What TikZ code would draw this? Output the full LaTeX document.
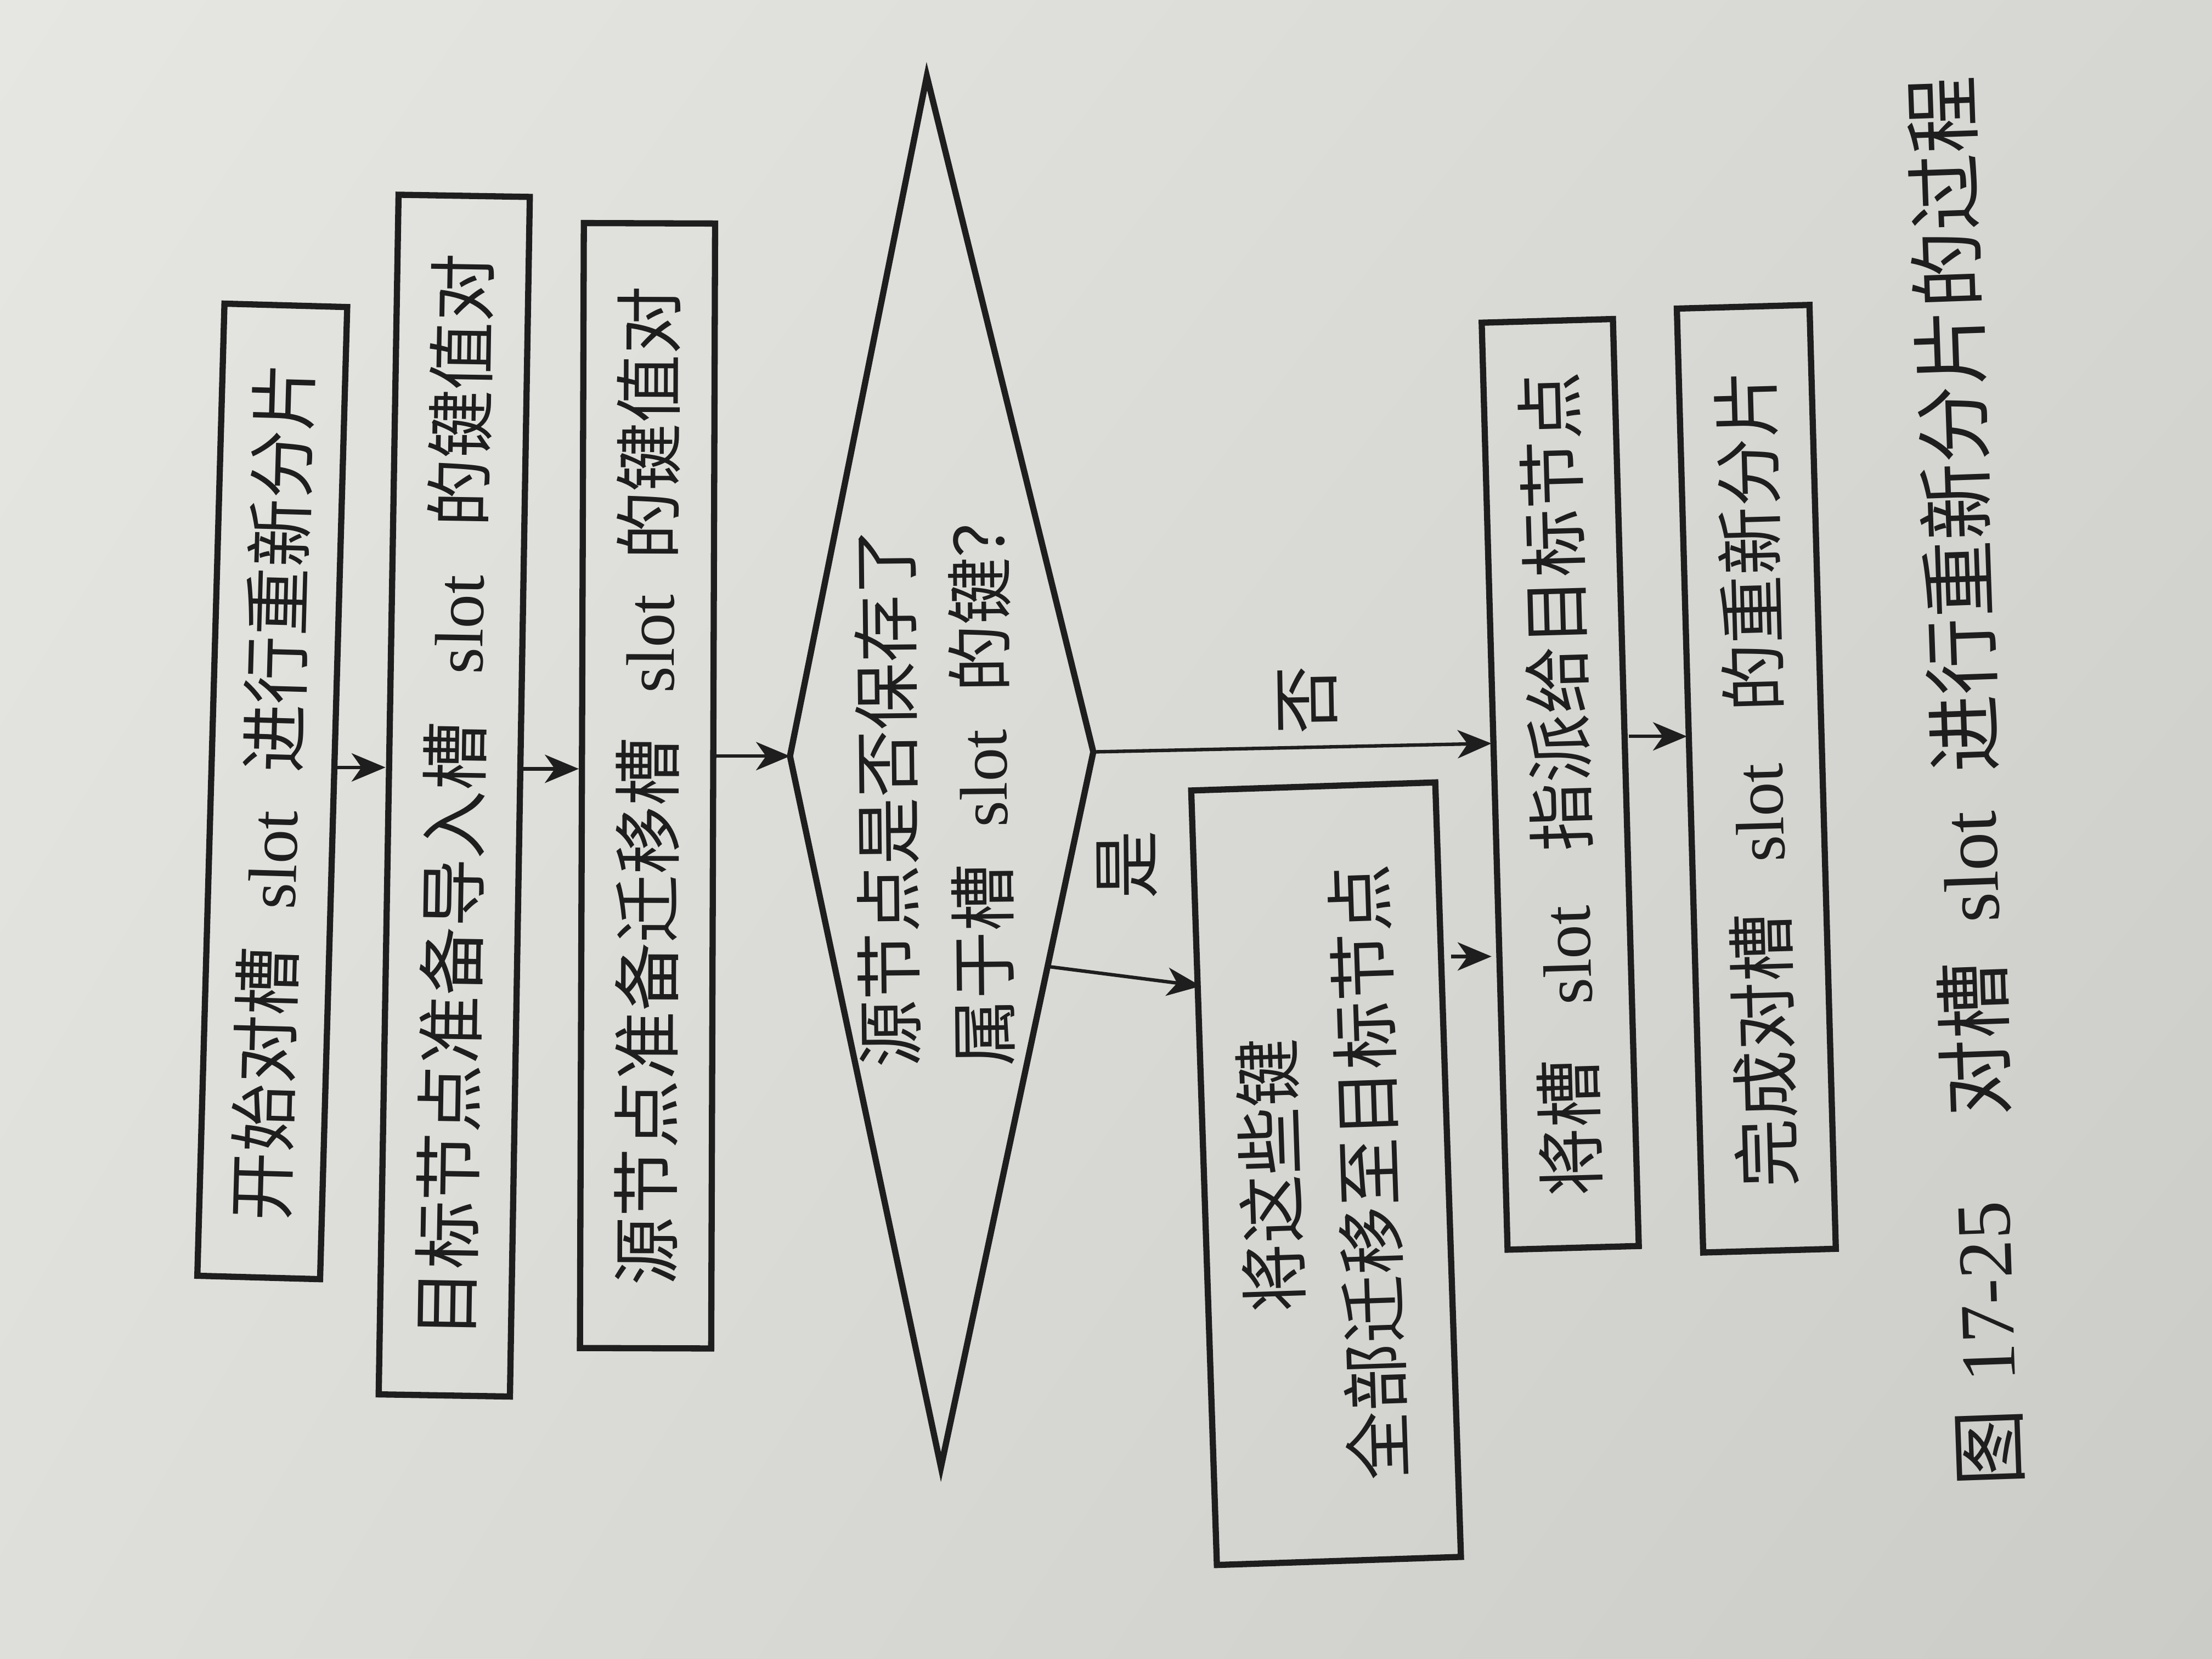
\documentclass[tikz,border=0pt]{standalone}
\usepackage{fontspec}
\setmainfont{Noto Sans CJK SC}
\newfontfamily\tnr{Liberation Serif}
\usetikzlibrary{arrows.meta,calc,shadings}
\definecolor{ink}{RGB}{30,30,30}
\definecolor{paperA}{RGB}{230,230,226}
\definecolor{paperB}{RGB}{214,214,210}
\definecolor{paperC}{RGB}{222,222,218}
\definecolor{paperD}{RGB}{203,203,199}
\newcommand\gp[1]{\hspace{#1em}}
\newcommand\slotw{{\tnr slot}}
\begin{document}
\begin{tikzpicture}[x=0.01cm,y=-0.01cm,
  box/.style={draw=ink, line width=1.25pt, rectangle, inner sep=0pt, text=ink,
    font=\fontsize{13.8}{19.8}\selectfont},
  decline/.style={draw=ink, line width=1.25pt},
  dectxt/.style={inner sep=0pt, text=ink, font=\fontsize{13.6}{19}\selectfont},
  lbl/.style={inner sep=0pt, text=ink, font=\fontsize{13.8}{16}\selectfont},
  captxt/.style={inner sep=0pt, text=ink, font=\fontsize{15.6}{18}\selectfont},
  arr/.style={draw=ink, line width=0.7pt, -{Stealth[length=0.24cm,width=0.2cm,inset=0.07cm]}}
]
\useasboundingbox (0,0) rectangle (1568,1176);
\shade[upper left=paperA, upper right=paperB, lower left=paperC, lower right=paperD]
  (0,0) rectangle (1568,1176);

% boxes
\node[box, rotate=-1.6, minimum width=0.87cm, minimum height=6.89cm] (b1) at (193,561)
  {\rotatebox{90}{开始对槽\gp{0.55}\slotw\gp{0.55}进行重新分片}};
\node[box, rotate=-0.95, minimum width=0.93cm, minimum height=8.50cm] (b2) at (322,564)
  {\rotatebox{90}{目标节点准备导入槽\gp{0.7}\slotw\gp{0.7}的键值对}};
\node[box, rotate=-0.2, minimum width=0.93cm, minimum height=7.97cm] (b3) at (459,557)
  {\rotatebox{90}{源节点准备迁移槽\gp{0.65}\slotw\gp{0.5}的键值对}};

% decision diamond
\coordinate (dT) at (657,54);
\coordinate (dL) at (560,536);
\coordinate (dB) at (667,1040);
\coordinate (dR) at (775,533);
\draw[decline] (dT) -- (dR) -- (dB) -- (dL) -- cycle;
\node[dectxt, rotate=0.6] (dq) at (667,552)
  {\rotatebox{90}{\begin{tabular}{@{}l@{}}源节点是否保存了\\属于槽\gp{0.55}\slotw\gp{0.55}的键？\end{tabular}}};

\node[box, rotate=1.9, minimum width=1.73cm, minimum height=5.49cm] (b4) at (940,832)
  {\rotatebox{90}{\begin{tabular}{@{}c@{}}将这些键\\全部迁移至目标节点\end{tabular}}};
\node[box, rotate=1.6, minimum width=0.93cm, minimum height=6.57cm] (b5) at (1106,556)
  {\rotatebox{90}{将槽\gp{0.8}\slotw\gp{0.8}指派给目标节点}};
\node[box, rotate=1.6, minimum width=0.94cm, minimum height=6.69cm] (b6) at (1245,552)
  {\rotatebox{90}{完成对槽\gp{0.75}\slotw\gp{0.75}的重新分片}};

% labels
\node[lbl, rotate=1] (no) at (927,496) {\rotatebox{90}{否}};
\node[lbl, rotate=0.5] (yes) at (799,613) {\rotatebox{90}{是}};

% caption
\node[captxt, rotate=2] (caption) at (1393,554)
  {\rotatebox{90}{图\gp{0.35}{\tnr 17-25}\gp{1.1}对槽\gp{0.5}\slotw\gp{0.5}进行重新分片的过程}};

% connectors
\draw[arr] (b1.east |- 0,544) -- (b2.west |- 0,544);
\draw[arr] (b2.east |- 0,545) -- (b3.west |- 0,545);
\draw[arr] (b3.east |- 0,536) -- (dL);
\draw[arr] (dR) -- (b5.west |- 0,527);
\draw[arr] ($(dR)!0.30!(dB)$) -- (b4.west |- 0,699);
\draw[arr] (b4.east |- 0,678) -- (b5.west |- 0,678);
\draw[arr] (b5.east |- 0,522) -- (b6.west |- 0,522);
\end{tikzpicture}
\end{document}
